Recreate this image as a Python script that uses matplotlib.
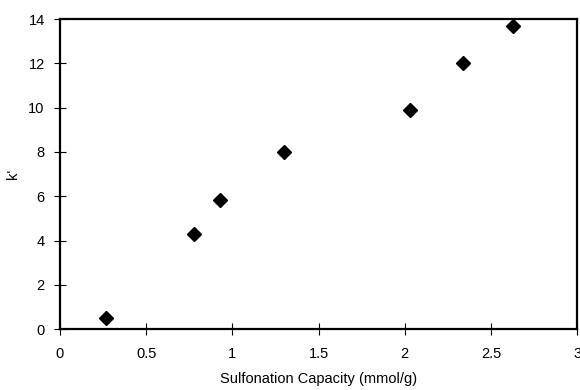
import matplotlib
matplotlib.use('Agg')
import matplotlib.pyplot as plt

plt.rcParams['font.family'] = ['Liberation Sans', 'DejaVu Sans']

# données
capacity = [0.266, 0.777, 0.93, 1.30, 2.03, 2.34, 2.63]
k_prime = [0.52, 4.29, 5.81, 8.0, 9.91, 12.04, 13.71]

x_ticks = [0, 0.5, 1, 1.5, 2, 2.5, 3]
x_ticklabels = ['0', '0.5', '1', '1.5', '2', '2.5', '3']
y_ticks = [0, 2, 4, 6, 8, 10, 12, 14]

fig = plt.figure(figsize=(5.8, 3.9), dpi=100)
ax = fig.add_axes([0.1034, 0.156, 0.8916, 0.795])

ax.plot(capacity, k_prime, 'D', color='black', markersize=6.8, clip_on=False)

ax.set_xlim(0, 3)
ax.set_ylim(0, 14)
ax.set_xticks(x_ticks)
ax.set_xticklabels(x_ticklabels)
ax.set_yticks(y_ticks)

for s in ax.spines.values():
    s.set_linewidth(1.6)
ax.tick_params(direction='inout', length=8, width=0.8, labelsize=10.5)
ax.tick_params(axis='x', pad=9)
ax.tick_params(axis='y', pad=7)

ax.set_xlabel('Sulfonation Capacity (mmol/g)', fontsize=10.5, labelpad=8)
ax.set_ylabel("k'", fontsize=10.5)
ax.yaxis.set_label_coords(-0.077, 0.5)

fig.savefig('out.png', dpi=100)
